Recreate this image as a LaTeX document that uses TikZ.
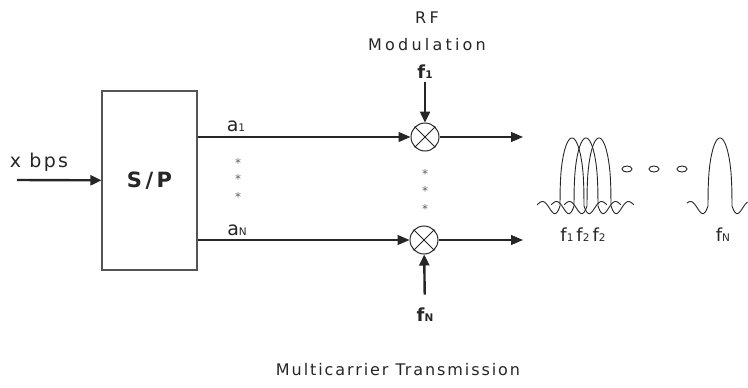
\documentclass[tikz,border=0pt]{standalone}
\usepackage{fontspec}
\setmainfont{DejaVu Sans}
\usetikzlibrary{arrows.meta}

\definecolor{ink}{HTML}{262626}
\definecolor{frame}{HTML}{555555}

% small index digit/letter
\newcommand\lo[1]{{\fontsize{10.5}{11}\selectfont #1}}
% spaced lettering
\newcommand\spaced[1]{\addfontfeature{LetterSpace=#1}}

% one carrier: centre x, left end, right end (in units of pi)
\newcommand\carrier[3]{%
  \draw[wave] plot[domain=#2*pi:-pi] ({#1+\x*12/pi},{206-35*sin(\x r)/\x})
    -- plot[domain=-0.99*pi:0.99*pi] ({#1+\x*12/pi},{206-68*cos(deg(\x/2))^0.35})
    -- plot[domain=pi:#3*pi] ({#1+\x*12/pi},{206-35*sin(\x r)/\x});}

\tikzset{
  sig/.style={ink, line width=1.2pt, -{Triangle[length=12pt,width=10pt]}},
  feed/.style={ink, line width=2.4pt, -{Triangle[length=11pt,width=10pt]}},
  mixer/.style={circle, draw=ink, line width=1pt, minimum size=28pt, inner sep=0pt},
  wave/.style={ink, line width=0.9pt, smooth, samples=40},
  dot/.style={text=ink!75, font=\fontsize{12}{12}\selectfont, inner sep=0pt},
}

\begin{document}
\begin{tikzpicture}[x=1pt, y=-1pt]
\useasboundingbox (0,0) rectangle (748,388);

% -----------------------------
% Serial to parallel
% -----------------------------
\node[draw=frame, line width=1.1pt, minimum width=95pt, minimum height=179pt,
      text=ink, font=\fontsize{21}{22}\selectfont\bfseries\spaced{17}]
      (sp) at (149.5,180.5) {S/P};
\coordinate (src) at (17,180);
\draw[feed] (src) -- (sp);
\node[text=ink, font=\fontsize{19}{20}\selectfont\spaced{12}] (rate) at (39,162) {x bps};

% -----------------------------
% Mixers
% -----------------------------
\node[mixer] (m1) at (425,137) {};
\node[mixer] (mN) at (424,240) {};
\foreach \m in {m1,mN} {
    \draw[ink, line width=0.8pt] (\m.north west) -- (\m.south east)
                                 (\m.north east) -- (\m.south west);
}

% branches
\draw[sig] (sp.east |- m1) -- (m1);
\draw[sig] (sp.east |- mN) -- (mN);
\node[text=ink, font=\fontsize{19}{20}\selectfont] (a1) at (236,126) {a\lo{1}};
\node[text=ink, font=\fontsize{19}{20}\selectfont] (aN) at (237,230) {a\lo{N}};
\foreach \y in {163,179,197} \node[dot] (da\y) at (238,\y) {*};
\foreach \y in {174,191,209} \node[dot] (db\y) at (425,\y) {*};

% outputs
\coordinate (o1) at (523,137);
\coordinate (oN) at (523,240);
\draw[sig] (m1) -- (o1);
\draw[sig] (mN) -- (oN);

% carrier inputs
\node[text=ink, font=\fontsize{18}{19}\selectfont\bfseries] (f1) at (425,72) {f\lo{1}};
\node[text=ink, font=\fontsize{18}{19}\selectfont\bfseries] (fN) at (425,315) {f\lo{N}};
\draw[feed] (f1) -- (m1);
\draw[feed, shorten <=10pt] (fN) -- (mN);

% -----------------------------
% Spectrum
% -----------------------------
\carrier{572}{-2.9}{2.9}
\carrier{586}{-2.9}{2.9}
\carrier{599}{-2.9}{2.9}
\carrier{720}{-2.75}{2.3}
\foreach \x in {627,654,682} \draw[ink, line width=0.9pt] (\x,169) ellipse (5pt and 3pt);
\node[text=ink, font=\fontsize{18}{19}\selectfont] (fa) at (583,235) {f\lo{1}\,f\lo{2}\,f\lo{2}};
\node[text=ink, font=\fontsize{18}{19}\selectfont] (fb) at (723,235) {f\lo{N}};

% -----------------------------
% Labels
% -----------------------------
\node[text=ink, font=\fontsize{16}{17}\selectfont\spaced{20}] (rf) at (427,18) {RF};
\node[text=ink, font=\fontsize{16}{17}\selectfont\spaced{20}] (mod) at (427,45) {Modulation};
\node[text=ink, font=\fontsize{16}{17}\selectfont\spaced{12}] (title) at (398,370) {Multicarrier Transmission};

\end{tikzpicture}
\end{document}
